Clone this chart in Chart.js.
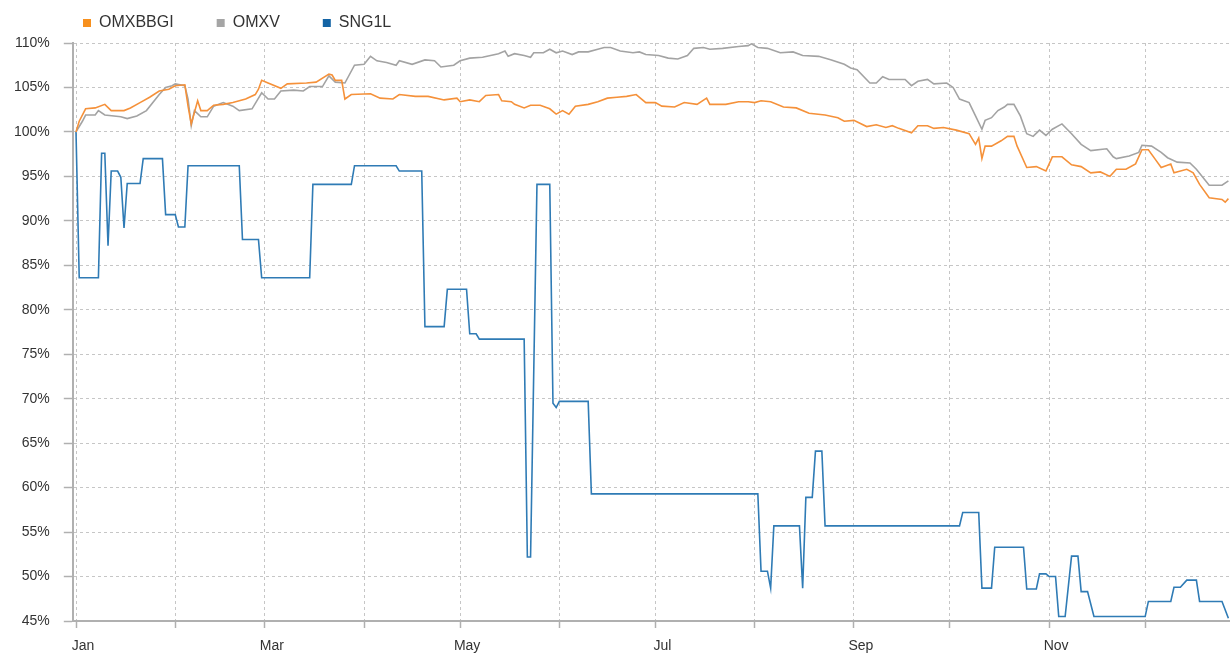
<!DOCTYPE html>
<html>
<head>
<meta charset="utf-8">
<title>OMXBBGI / OMXV / SNG1L</title>
<script src="https://cdn.jsdelivr.net/npm/chart.js@4.4.1/dist/chart.umd.min.js"></script>
<style>
  html, body { margin: 0; padding: 0; background: #fff; }
  #wrap { width: 1230px; height: 654px; }
</style>
</head>
<body>
<div id="wrap"><canvas id="perfChart" width="1230" height="654"></canvas></div>
<script>
// x = day of the year (Jan 1 = 0), y = % of the Jan 1 level
const monthStarts = [0, 31, 59, 90, 120, 151, 181, 212, 243, 273, 304, 334];
const monthLabels = ["Jan", "", "Mar", "", "May", "", "Jul", "", "Sep", "", "Nov", ""];

const omxbbgiDays = [0, 1, 3, 6, 9, 11, 15, 17, 20, 23, 26, 29, 31, 34, 35, 36, 37, 38, 39, 41,
  43, 46, 49, 53, 56, 57, 58, 60, 64, 66, 72, 75, 79, 80, 81, 83, 84, 86, 92, 95,
  99, 101, 106, 110, 115, 119, 120, 123, 126, 128, 132, 133, 136, 137, 140, 142, 145, 148, 150, 152,
  154, 156, 160, 163, 166, 169, 172, 175, 178, 181, 183, 187, 190, 194, 197, 198, 203, 207, 210, 212,
  214, 217, 221, 225, 229, 234, 238, 240, 243, 247, 250, 253, 255, 257, 261, 263, 266, 268, 271, 275,
  279, 281, 282, 283, 284, 286, 289, 291, 293, 294, 297, 300, 303, 305, 308, 311, 314, 317, 320, 323,
  325, 328, 331, 333, 335, 337, 339, 342, 343, 347, 349, 351, 354, 358, 359, 360];
const omxbbgiValues = [100, 101.2, 102.6, 102.7, 103.1, 102.4, 102.4, 102.7, 103.3, 103.9, 104.6, 104.8, 105.2, 105.3, 102.9, 100.9, 102.2, 103.5, 102.4, 102.4,
  103.0, 103.1, 103.3, 103.7, 104.2, 104.8, 105.8, 105.5, 104.9, 105.4, 105.5, 105.6, 106.5, 106.4, 105.8, 105.8, 103.7, 104.2, 104.3, 103.8,
  103.7, 104.2, 104.0, 104.0, 103.6, 103.8, 103.4, 103.6, 103.4, 104.1, 104.2, 103.5, 103.4, 103.1, 102.7, 103.0, 103.0, 102.6, 102.0, 102.4,
  102.0, 102.9, 103.1, 103.4, 103.8, 103.9, 104.0, 104.2, 103.3, 103.3, 102.9, 102.8, 103.3, 103.1, 103.8, 103.1, 103.1, 103.4, 103.4, 103.3,
  103.5, 103.4, 102.8, 102.7, 102.1, 101.9, 101.6, 101.2, 101.3, 100.6, 100.8, 100.5, 100.7, 100.4, 99.9, 100.7, 100.7, 100.4, 100.5, 100.2,
  99.8, 98.6, 99.3, 97.0, 98.4, 98.4, 99.0, 99.5, 99.5, 98.4, 96.0, 96.1, 95.6, 97.2, 97.2, 96.3, 96.1, 95.4, 95.5, 95.0,
  95.8, 95.8, 96.4, 98.0, 98.0, 97.0, 96.0, 96.4, 95.4, 95.8, 95.4, 94.1, 92.6, 92.4, 92.1, 92.5];

const omxvDays = [0, 2, 3, 6, 7, 9, 14, 16, 19, 22, 26, 28, 30, 31, 34, 35, 36, 37, 39, 41,
  43, 46, 49, 51, 55, 58, 60, 62, 64, 68, 71, 73, 77, 79, 81, 84, 87, 90, 92, 94,
  97, 100, 101, 105, 109, 112, 114, 118, 120, 123, 127, 132, 134, 135, 137, 140, 142, 143, 146, 148,
  150, 152, 155, 157, 160, 163, 165, 167, 170, 174, 176, 178, 182, 185, 188, 191, 193, 196, 198, 202,
  207, 210, 211, 213, 216, 220, 224, 227, 232, 236, 240, 242, 244, 248, 250, 252, 254, 259, 261, 263,
  266, 268, 272, 274, 276, 279, 281, 283, 284, 286, 288, 290, 291, 293, 295, 297, 299, 301, 303, 305,
  308, 311, 314, 317, 322, 324, 325, 329, 332, 333, 336, 339, 341, 344, 348, 350, 354, 358, 360];
const omxvValues = [100, 101.2, 101.9, 101.9, 102.4, 101.9, 101.7, 101.5, 101.8, 102.4, 104.2, 105.0, 105.2, 105.4, 105.2, 103.7, 100.7, 102.4, 101.7, 101.7,
  102.9, 103.3, 102.9, 102.4, 102.6, 104.4, 103.7, 103.7, 104.6, 104.7, 104.6, 105.1, 105.1, 106.3, 105.6, 105.5, 107.5, 107.6, 108.5, 108.0,
  107.8, 107.5, 108.0, 107.6, 108.1, 108.0, 107.3, 107.5, 108.0, 108.3, 108.4, 108.8, 109.1, 108.5, 108.8, 108.6, 108.4, 108.9, 108.9, 109.3,
  108.9, 109.1, 108.7, 109.0, 109.0, 109.3, 109.5, 109.5, 109.1, 108.9, 109.0, 108.7, 108.6, 108.3, 108.2, 108.6, 109.4, 109.5, 109.3, 109.4,
  109.6, 109.7, 109.9, 109.5, 109.4, 108.9, 109.0, 108.6, 108.5, 108.1, 107.6, 107.2, 107.0, 105.5, 105.5, 106.2, 105.9, 105.9, 105.2, 105.7,
  105.9, 105.4, 105.5, 105.0, 103.7, 103.3, 101.8, 100.3, 101.3, 101.6, 102.4, 102.8, 103.1, 103.1, 101.8, 99.8, 99.5, 100.2, 99.6, 100.3,
  100.9, 99.8, 98.6, 97.9, 98.1, 97.2, 97.0, 97.3, 97.7, 98.5, 98.4, 97.7, 97.1, 96.6, 96.5, 95.8, 94.0, 94.0, 94.5];

const sng1lDays = [0, 1, 7, 8, 9, 10, 11, 13, 14, 15, 16, 20, 21, 27, 28, 31, 32, 34, 35, 51,
  52, 57, 58, 73, 74, 86, 87, 100, 101, 108, 109, 115, 116, 122, 123, 125, 126, 140, 141, 142,
  144, 148, 149, 150, 151, 160, 161, 213, 214, 216, 217, 218, 226, 227, 228, 230, 231, 233, 234, 276,
  277, 282, 283, 286, 287, 296, 297, 300, 301, 303, 304, 306, 307, 309, 311, 313, 314, 316, 318, 334,
  335, 342, 343, 345, 347, 350, 351, 358, 360];
const sng1lValues = [100, 83.6, 83.6, 97.6, 97.6, 87.2, 95.6, 95.6, 94.9, 89.2, 94.2, 94.2, 97.0, 97.0, 90.7, 90.7, 89.3, 89.3, 96.2, 96.2,
  87.9, 87.9, 83.6, 83.6, 94.1, 94.1, 96.2, 96.2, 95.6, 95.6, 78.1, 78.1, 82.3, 82.3, 77.3, 77.3, 76.7, 76.7, 52.2, 52.2,
  94.1, 94.1, 69.5, 69.0, 69.7, 69.7, 59.3, 59.3, 50.6, 50.6, 48.7, 55.7, 55.7, 48.7, 58.9, 58.9, 64.1, 64.1, 55.7, 55.7,
  57.2, 57.2, 48.7, 48.7, 53.3, 53.3, 48.6, 48.6, 50.3, 50.3, 50.0, 50.0, 45.5, 45.5, 52.3, 52.3, 48.3, 48.3, 45.5, 45.5,
  47.2, 47.2, 48.8, 48.8, 49.6, 49.6, 47.2, 47.2, 45.3];

function toPoints(days, values) {
  return days.map((d, i) => ({ x: d, y: values[i] }));
}

// built-in legend, moved to where the original sits (top left, wide gaps)
const legendPlace = {
  id: "legendPlace",
  afterLayout(chart) {
    const lg = chart.legend;
    const pad = lg.options.labels.padding;
    const w = lg.right - lg.left;
    lg.left = 83 - pad;
    lg.right = lg.left + w;
    lg.top = 15 - pad;
  }
};

const gridColor = "#c6c6c6";
const axisColor = "#b0b0b0";
const tickFont = { family: "'Liberation Sans', Arial, sans-serif", size: 14 };

new Chart(document.getElementById("perfChart"), {
  type: "line",
  data: {
    datasets: [
      {
        label: "OMXBBGI",
        data: toPoints(omxbbgiDays, omxbbgiValues),
        borderColor: "#f5913a",
        backgroundColor: "#f7901e",
        borderWidth: 1.6
      },
      {
        label: "OMXV",
        data: toPoints(omxvDays, omxvValues),
        borderColor: "#a3a3a3",
        backgroundColor: "#a5a5a5",
        borderWidth: 1.6
      },
      {
        label: "SNG1L",
        data: toPoints(sng1lDays, sng1lValues),
        borderColor: "#2f7bb5",
        backgroundColor: "#1464a5",
        borderWidth: 1.6
      }
    ]
  },
  options: {
    responsive: false,
    animation: false,
    devicePixelRatio: 1,
    elements: { point: { radius: 0 }, line: { tension: 0, fill: false } },
    layout: { padding: 0 },
    plugins: {
      legend: {
        align: "start",
        maxHeight: 43,
        labels: {
          boxWidth: 8,
          boxHeight: 8,
          padding: 43,
          color: "#333",
          font: { family: "'Liberation Sans', Arial, sans-serif", size: 16 },
          generateLabels(chart) {
            return Chart.defaults.plugins.legend.labels.generateLabels(chart)
              .map(l => Object.assign(l, { lineWidth: 0 }));
          }
        }
      },
      tooltip: { enabled: false }
    },
    scales: {
      x: {
        type: "linear",
        min: -1,
        max: 360.5,
        afterBuildTicks(scale) {
          scale.ticks = monthStarts.map(v => ({ value: v }));
        },
        afterFit(scale) {
          scale.height = 33;
        },
        ticks: {
          autoSkip: false,
          maxRotation: 0,
          padding: 10,
          labelOffset: 7,
          color: "#333",
          font: tickFont,
          callback: (v, i) => monthLabels[i]
        },
        grid: {
          color: gridColor,
          lineWidth: 1,
          tickLength: 7,
          tickColor: axisColor,
          tickWidth: 1.5,
          tickBorderDash: []
        },
        border: { color: axisColor, width: 2, dash: [3, 3] }
      },
      y: {
        min: 45,
        max: 110,
        ticks: {
          stepSize: 5,
          padding: 14,
          color: "#333",
          font: tickFont,
          callback: v => v + "%"
        },
        grid: {
          color: gridColor,
          lineWidth: 1,
          tickLength: 9,
          tickColor: axisColor,
          tickWidth: 1.5,
          tickBorderDash: []
        },
        border: { color: axisColor, width: 2, dash: [3, 3] }
      }
    }
  },
  plugins: [legendPlace]
});
</script>
</body>
</html>
